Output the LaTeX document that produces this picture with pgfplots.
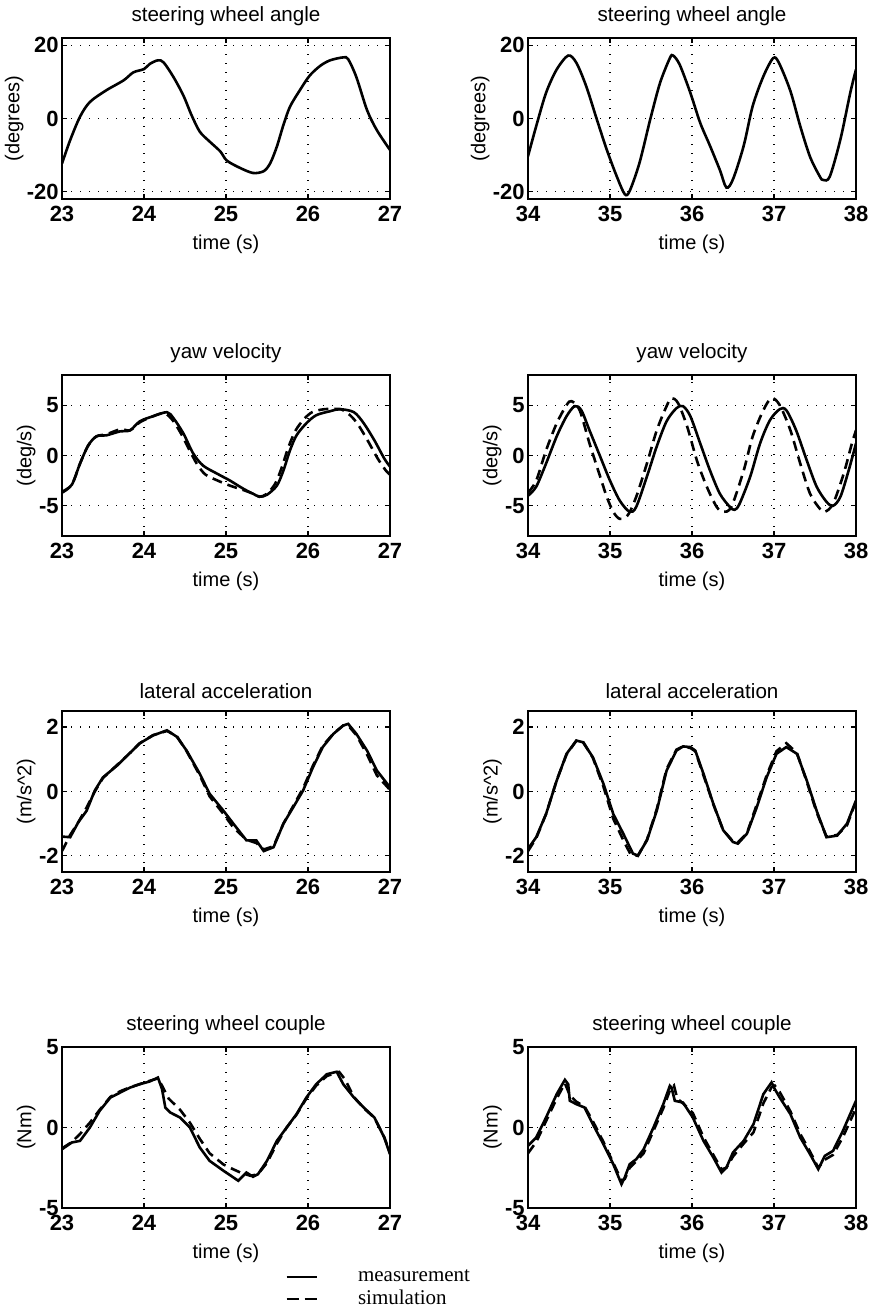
\documentclass[border=0pt]{standalone}
\usepackage{fontspec}
\setmainfont{Liberation Serif}
\setsansfont{Liberation Sans}
\usepackage{pgfplots}
\pgfplotsset{compat=1.18}

\pgfplotsset{
  panel/.style={
    scale only axis, width=164pt, height=80.5pt, anchor=south west,
    grid=major,
    grid style={black, line width=0.6pt, dash pattern=on 0.7pt off 3.8pt},
    axis line style={black, line width=0.9pt},
    tick align=inside, major tick length=2.5pt,
    tick style={black, line width=0.6pt},
    /pgf/number format/assume math mode=true,
    scaled ticks=false,
    tick label style={font=\sffamily\bfseries\fontsize{11}{12}\selectfont},
    yticklabel style={inner xsep=1.5pt},
    label style={font=\sffamily\fontsize{10}{12}\selectfont},
    ylabel style={inner sep=0pt},
    every axis title/.style={at={(0.5,1)}, anchor=south, inner sep=2pt,
      yshift=4pt, font=\sffamily\fontsize{10.3}{12}\selectfont},
    xlabel={time (s)},
  },
  leftcol/.style={panel, xmin=23, xmax=27, xtick={23,24,25,26,27}},
  rightcol/.style={panel, xmin=34, xmax=38, xtick={34,35,36,37,38}},
  meas/.style={black, line width=1.3pt, mark=none, solid},
  sim/.style={black, line width=1.3pt, mark=none, dash pattern=on 5pt off 3pt},
}

\begin{document}
\begin{tikzpicture}
\path[use as bounding box] (0,0) rectangle (436pt,654.5pt);

% ---- row 1: steering wheel angle
\begin{axis}[leftcol, at={(31pt,555pt)}, title={steering wheel angle},
  ylabel={(degrees)}, ymin=-22, ymax=22, ytick={-20,0,20}]
\addplot[meas, smooth] coordinates {
 (23.0,-12.3)(23.1,-5.9)(23.22,0.5)(23.34,4.5)(23.54,7.7)(23.75,10.4)
 (23.87,12.6)(24.0,13.5)(24.07,14.9)(24.17,15.9)(24.24,15.3)(24.36,11.3)
 (24.48,6.3)(24.58,0.9)(24.68,-3.6)(24.8,-6.3)(24.93,-9.0)(25.01,-11.5)
 (25.17,-13.5)(25.33,-14.9)(25.46,-14.4)(25.54,-12.2)(25.62,-7.7)
 (25.7,-1.8)(25.78,3.2)(25.9,7.7)(26.02,11.7)(26.15,14.4)(26.27,15.9)
 (26.43,16.7)(26.49,16.2)(26.59,11.3)(26.72,2.3)(26.84,-3.2)(27.0,-8.6)};
\end{axis}

\begin{axis}[rightcol, at={(264pt,555pt)}, title={steering wheel angle},
  ylabel={(degrees)}, ymin=-22, ymax=22, ytick={-20,0,20}]
\addplot[meas, smooth] coordinates {
 (34.0,-10.3)(34.1,-2.1)(34.22,7.0)(34.35,13.4)(34.49,17.2)(34.59,15.2)
 (34.71,8.8)(34.84,-0.3)(34.96,-8.5)(35.08,-15.7)(35.18,-20.7)(35.24,-19.8)
 (35.36,-12.1)(35.49,-0.3)(35.61,9.7)(35.73,16.5)(35.77,17.2)(35.85,14.7)
 (35.98,7.0)(36.1,-1.2)(36.22,-7.5)(36.34,-14.1)(36.42,-18.9)(36.5,-16.6)
 (36.63,-7.5)(36.74,3.4)(36.87,11.5)(36.99,16.5)(37.06,15.2)(37.2,7.5)
 (37.32,-2.1)(37.44,-10.5)(37.56,-15.9)(37.6,-16.8)(37.68,-15.9)
 (37.81,-5.7)(37.93,7.0)(38.0,13.4)};
\end{axis}

% ---- row 2: yaw velocity
\begin{axis}[leftcol, at={(31pt,386.5pt)}, title={yaw velocity},
  ylabel={(deg/s)}, ymin=-8, ymax=8, ytick={-5,0,5}]
\addplot[meas, smooth] coordinates {
 (23.0,-3.7)(23.12,-2.9)(23.22,-0.8)(23.32,1.0)(23.42,1.9)(23.54,2.0)
 (23.71,2.4)(23.83,2.5)(23.95,3.4)(24.11,3.9)(24.28,4.3)(24.36,3.7)
 (24.48,2.2)(24.6,0.2)(24.72,-1.0)(24.89,-1.8)(25.05,-2.5)(25.21,-3.3)
 (25.33,-3.8)(25.41,-4.1)(25.5,-3.9)(25.62,-3.0)(25.7,-1.5)(25.78,0.5)
 (25.86,2.0)(25.98,3.2)(26.1,4.0)(26.27,4.4)(26.39,4.6)(26.56,4.3)
 (26.68,3.2)(26.81,1.5)(26.93,-0.3)(27.0,-1.1)};
\addplot[sim, smooth] coordinates {
 (23.0,-3.6)(23.12,-2.9)(23.22,-0.8)(23.32,1.0)(23.42,1.9)(23.54,2.1)
 (23.71,2.6)(23.83,2.5)(23.95,3.3)(24.11,3.9)(24.25,4.2)(24.35,3.5)
 (24.45,2.2)(24.55,0.6)(24.65,-0.9)(24.75,-1.9)(24.9,-2.5)(25.05,-3.0)
 (25.2,-3.4)(25.33,-3.8)(25.41,-4.1)(25.5,-3.8)(25.6,-2.8)(25.68,-1.2)
 (25.76,0.8)(25.85,2.5)(25.95,3.6)(26.05,4.3)(26.2,4.6)(26.4,4.6)
 (26.5,4.1)(26.6,3.2)(26.72,1.6)(26.85,-0.3)(26.95,-1.5)(27.0,-1.9)};
\end{axis}

\begin{axis}[rightcol, at={(264pt,386.5pt)}, title={yaw velocity},
  ylabel={(deg/s)}, ymin=-8, ymax=8, ytick={-5,0,5}]
\addplot[meas, smooth] coordinates {
 (34.0,-4.0)(34.1,-3.1)(34.22,-0.8)(34.35,1.9)(34.47,3.9)(34.57,4.9)
 (34.65,4.5)(34.75,2.5)(34.88,-0.1)(35.0,-2.5)(35.12,-4.5)(35.24,-5.6)
 (35.32,-5.1)(35.45,-2.1)(35.57,0.9)(35.69,3.4)(35.81,4.7)(35.89,4.9)
 (35.98,3.9)(36.1,1.2)(36.22,-1.5)(36.34,-3.8)(36.46,-5.1)(36.52,-5.4)
 (36.58,-4.8)(36.71,-2.1)(36.83,1.2)(36.95,3.5)(37.07,4.6)(37.15,4.5)
 (37.27,2.5)(37.4,-0.5)(37.52,-3.1)(37.64,-4.6)(37.72,-5.0)(37.81,-4.1)
 (37.91,-1.5)(38.0,1.2)};
\addplot[sim, smooth] coordinates {
 (34.0,-3.7)(34.1,-2.5)(34.22,0.5)(34.35,3.2)(34.47,5.0)(34.53,5.4)
 (34.63,4.5)(34.75,1.2)(34.88,-2.1)(34.96,-4.1)(35.04,-5.6)(35.12,-6.3)
 (35.22,-5.9)(35.32,-4.1)(35.45,-0.8)(35.57,2.5)(35.69,4.9)(35.75,5.7)
 (35.83,5.2)(35.94,2.9)(36.06,-0.5)(36.18,-3.1)(36.3,-5.1)(36.38,-5.6)
 (36.48,-5.1)(36.63,-1.5)(36.74,1.9)(36.87,4.5)(36.97,5.7)(37.07,5.0)
 (37.2,2.5)(37.32,-0.8)(37.44,-3.8)(37.56,-5.3)(37.62,-5.6)(37.72,-4.8)
 (37.85,-1.8)(37.95,1.2)(38.0,2.5)};
\end{axis}

% ---- row 3: lateral acceleration
\begin{axis}[leftcol, at={(31pt,218.5pt)}, title={lateral acceleration},
  ylabel={(m/s\^{}2)}, ymin=-2.5, ymax=2.5, ytick={-2,0,2}]
\addplot[meas] coordinates {
 (23.0,-1.4)(23.1,-1.42)(23.2,-0.95)(23.3,-0.6)(23.4,0.03)(23.5,0.44)
 (23.67,0.8)(23.79,1.1)(23.95,1.5)(24.11,1.74)(24.28,1.9)(24.4,1.7)
 (24.52,1.27)(24.68,0.55)(24.8,-0.07)(24.97,-0.6)(25.09,-1.0)(25.25,-1.52)
 (25.37,-1.52)(25.46,-1.85)(25.58,-1.73)(25.7,-1.0)(25.82,-0.49)
 (25.94,0.03)(26.06,0.75)(26.18,1.38)(26.31,1.79)(26.43,2.05)(26.49,2.1)
 (26.59,1.79)(26.72,1.27)(26.84,0.65)(27.0,0.13)};
\addplot[sim] coordinates {
 (23.0,-1.85)(23.1,-1.35)(23.2,-0.95)(23.3,-0.5)(23.4,0.0)(23.5,0.42)
 (23.67,0.82)(23.79,1.1)(23.95,1.5)(24.11,1.75)(24.28,1.88)(24.4,1.72)
 (24.52,1.25)(24.68,0.5)(24.8,-0.15)(24.97,-0.7)(25.09,-1.12)(25.25,-1.5)
 (25.37,-1.6)(25.46,-1.8)(25.58,-1.7)(25.7,-1.0)(25.82,-0.45)(25.94,0.1)
 (26.06,0.8)(26.18,1.42)(26.31,1.8)(26.43,2.05)(26.49,2.05)(26.59,1.75)
 (26.72,1.15)(26.84,0.5)(27.0,0.05)};
\end{axis}

\begin{axis}[rightcol, at={(264pt,218.5pt)}, title={lateral acceleration},
  ylabel={(m/s\^{}2)}, ymin=-2.5, ymax=2.5, ytick={-2,0,2}]
\addplot[meas] coordinates {
 (34.0,-1.78)(34.1,-1.42)(34.22,-0.7)(34.35,0.34)(34.47,1.17)(34.59,1.58)
 (34.67,1.53)(34.79,1.07)(34.92,0.24)(35.04,-0.7)(35.16,-1.3)(35.28,-1.93)
 (35.34,-1.99)(35.45,-1.52)(35.57,-0.6)(35.69,0.65)(35.81,1.27)(35.89,1.4)
 (35.98,1.38)(36.04,1.27)(36.14,0.55)(36.26,-0.38)(36.38,-1.2)(36.5,-1.57)
 (36.56,-1.62)(36.67,-1.31)(36.79,-0.49)(36.91,0.44)(37.03,1.17)
 (37.15,1.38)(37.28,1.17)(37.4,0.34)(37.52,-0.6)(37.64,-1.42)(37.77,-1.37)
 (37.89,-1.0)(38.0,-0.28)};
\addplot[sim] coordinates {
 (34.0,-1.85)(34.1,-1.45)(34.22,-0.7)(34.35,0.35)(34.47,1.15)(34.59,1.58)
 (34.67,1.55)(34.79,1.05)(34.92,0.15)(35.04,-0.85)(35.16,-1.5)(35.25,-1.95)
 (35.34,-2.0)(35.45,-1.5)(35.57,-0.55)(35.69,0.7)(35.81,1.3)(35.89,1.4)
 (35.98,1.35)(36.04,1.25)(36.14,0.5)(36.26,-0.4)(36.38,-1.2)(36.5,-1.55)
 (36.56,-1.58)(36.67,-1.3)(36.79,-0.4)(36.91,0.5)(37.03,1.25)(37.15,1.5)
 (37.28,1.2)(37.4,0.3)(37.52,-0.65)(37.64,-1.4)(37.77,-1.35)(37.89,-1.05)
 (38.0,-0.3)};
\end{axis}

% ---- row 4: steering wheel couple
\begin{axis}[leftcol, at={(31pt,50.5pt)}, title={steering wheel couple},
  ylabel={(Nm)}, ymin=-5, ymax=5, ytick={-5,0,5},
  legend cell align=left,
  legend style={at={(0.68,-0.355)}, anchor=north west, draw=none, fill=none,
    inner sep=0pt, row sep=-1pt,
    font=\rmfamily\fontsize{10.5}{12}\selectfont,
    /tikz/every odd column/.append style={column sep=18pt}},
  legend image code/.code={\draw[#1, dash phase=0pt] (0pt,0pt) -- (15pt,0pt);}]
\addplot[meas] coordinates {
 (23.0,-1.35)(23.12,-0.93)(23.22,-0.83)(23.34,0.0)(23.46,1.04)(23.59,1.86)
 (23.71,2.17)(23.83,2.48)(23.95,2.69)(24.07,2.86)(24.17,3.1)(24.22,2.38)
 (24.26,1.24)(24.32,0.93)(24.44,0.62)(24.56,0.0)(24.68,-1.24)(24.8,-2.07)
 (24.97,-2.69)(25.09,-3.1)(25.15,-3.31)(25.25,-2.8)(25.33,-3.06)
 (25.39,-2.9)(25.5,-2.07)(25.62,-0.83)(25.74,0.0)(25.86,0.83)(25.98,1.86)
 (26.1,2.69)(26.23,3.31)(26.35,3.46)(26.43,2.69)(26.56,1.86)(26.68,1.24)
 (26.81,0.62)(26.93,-0.62)(27.0,-1.66)};
\addlegendentry{measurement}
\addplot[sim, legend image post style={dash pattern=on 6pt off 3pt}] coordinates {
 (23.0,-1.3)(23.12,-0.9)(23.22,-0.4)(23.34,0.3)(23.46,1.1)(23.59,1.9)
 (23.71,2.25)(23.83,2.5)(23.95,2.7)(24.07,2.9)(24.17,3.05)(24.22,2.6)
 (24.3,1.8)(24.44,1.1)(24.56,0.3)(24.68,-0.7)(24.8,-1.6)(24.97,-2.3)
 (25.09,-2.6)(25.2,-2.85)(25.3,-3.0)(25.39,-2.9)(25.5,-2.2)(25.62,-1.0)
 (25.74,0.0)(25.86,0.8)(25.98,1.8)(26.1,2.6)(26.23,3.2)(26.38,3.45)
 (26.45,3.0)(26.56,1.9)(26.68,1.2)(26.81,0.6)(26.93,-0.6)(27.0,-1.6)};
\addlegendentry{simulation}
\end{axis}

\begin{axis}[rightcol, at={(264pt,50.5pt)}, title={steering wheel couple},
  ylabel={(Nm)}, ymin=-5, ymax=5, ytick={-5,0,5}]
\addplot[meas] coordinates {
 (34.0,-1.14)(34.1,-0.62)(34.22,0.62)(34.35,2.07)(34.45,2.96)(34.49,2.69)
 (34.51,1.66)(34.59,1.45)(34.69,1.24)(34.79,0.21)(34.92,-1.04)(35.04,-2.28)
 (35.14,-3.52)(35.18,-3.1)(35.24,-2.28)(35.32,-1.97)(35.41,-1.35)
 (35.53,0.0)(35.65,1.45)(35.73,2.59)(35.75,2.48)(35.79,1.66)(35.89,1.55)
 (36.01,0.62)(36.14,-0.83)(36.26,-1.86)(36.36,-2.8)(36.42,-2.48)
 (36.5,-1.55)(36.63,-0.83)(36.75,0.21)(36.87,2.07)(36.97,2.8)(37.01,2.38)
 (37.07,1.86)(37.2,0.83)(37.32,-0.62)(37.44,-1.66)(37.54,-2.59)
 (37.62,-1.76)(37.72,-1.45)(37.84,-0.21)(38.0,1.66)};
\addplot[sim] coordinates {
 (34.0,-1.6)(34.1,-0.9)(34.22,0.4)(34.35,1.8)(34.45,2.75)(34.51,2.0)
 (34.59,1.6)(34.69,1.3)(34.79,0.4)(34.92,-0.9)(35.04,-2.2)(35.14,-3.3)
 (35.18,-3.2)(35.24,-2.5)(35.32,-2.1)(35.41,-1.6)(35.53,-0.2)(35.65,1.2)
 (35.73,2.3)(35.78,2.6)(35.82,1.8)(35.89,1.5)(36.01,0.9)(36.14,-0.6)
 (36.26,-1.7)(36.36,-2.6)(36.42,-2.5)(36.5,-1.8)(36.63,-1.0)(36.75,-0.3)
 (36.87,1.5)(36.97,2.5)(37.01,2.6)(37.07,2.2)(37.2,1.0)(37.32,-0.4)
 (37.44,-1.5)(37.54,-2.5)(37.62,-2.0)(37.72,-1.7)(37.84,-0.6)(38.0,1.2)};
\end{axis}
\end{tikzpicture}
\end{document}
